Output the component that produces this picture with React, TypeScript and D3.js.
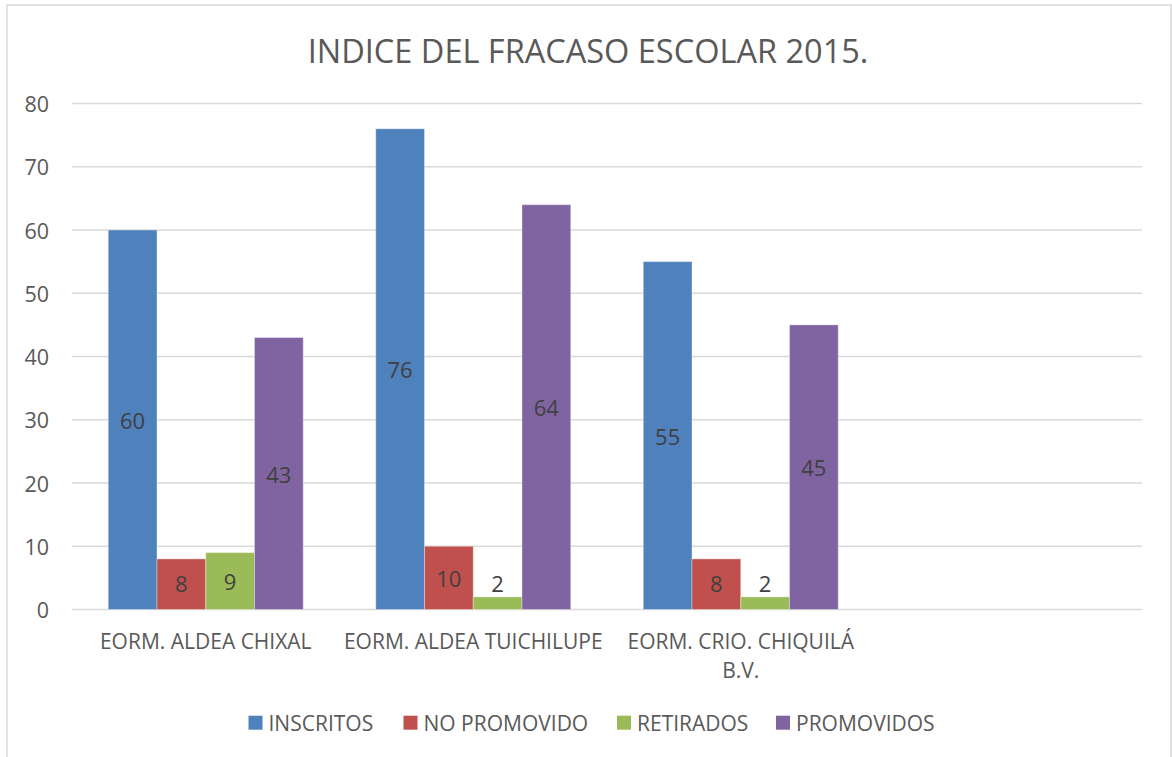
import React from "react";
import * as d3 from "d3";

const categories = ["EORM. ALDEA CHIXAL", "EORM. ALDEA TUICHILUPE", "EORM. CRIO. CHIQUILÁ B.V.", ""];
const seriesNames = ["INSCRITOS", "NO PROMOVIDO", "RETIRADOS", "PROMOVIDOS"];
const inscritos = [60, 76, 55, null];
const noPromovido = [8, 10, 8, null];
const retirados = [9, 2, 2, null];
const promovidos = [43, 64, 45, null];
const seriesColors = ["#4F81BD", "#C0504D", "#9BBB59", "#8064A2"];
const yTicks = [0, 10, 20, 30, 40, 50, 60, 70, 80];
const title = "INDICE DEL FRACASO ESCOLAR 2015.";

const W = 1172;
const H = 757;
const FONT = "'Open Sans', 'Noto Sans', sans-serif";
const TXT = "#595959";

export default function App() {
  const series = [inscritos, noPromovido, retirados, promovidos];
  const x0 = d3.scaleBand<number>().domain(categories.map((_, i) => i)).range([72, 1142]).paddingInner(0.2711).paddingOuter(0.1355);
  const x1 = d3.scaleBand<number>().domain(series.map((_, i) => i)).range([0, x0.bandwidth()]);
  const y = d3.scaleLinear().domain([0, 80]).range([609.5, 103.5]);
  const band = (1142 - 72) / categories.length;

  const legendX = [248.5, 403.5, 617, 776];

  return (
    <svg width={W} height={H} style={{ position: "absolute", left: 0, top: 0, fontFamily: FONT }}>
      <rect x={0} y={0} width={W} height={H} fill="#fff" />
      <rect x={7} y={5} width={1164} height={H + 10} fill="#fff" stroke="#d9d9d9" strokeWidth={1.5} />
      <text x={588} y={50} textAnchor="middle" dominantBaseline="central" fontSize={32.5} fill={TXT}>{title}</text>
      {yTicks.map((t) => (
        <g key={t}>
          <line x1={72} x2={1142} y1={y(t)} y2={y(t)} stroke="#d9d9d9" strokeWidth={1.5} />
          <text x={49} y={y(t)} textAnchor="end" dominantBaseline="central" fontSize={21.5} fill={TXT}>{t}</text>
        </g>
      ))}
      {categories.map((c, ci) => (
        <g key={ci}>
          {series.map((s, si) => {
            const v = s[ci];
            if (v == null) return null;
            const bx = (x0(ci) as number) + (x1(si) as number);
            const bw = x1.bandwidth();
            const top = y(v);
            const mid = (top + y(0)) / 2;
            const ly = Math.min(mid, y(0) - 27);
            return (
              <g key={si}>
                <rect x={bx} y={top} width={bw} height={y(0) - top} fill={seriesColors[si]} stroke="#ffffff" strokeOpacity={0.35} strokeWidth={1} />
                <text x={bx + bw / 2} y={ly} textAnchor="middle" dominantBaseline="central" fontSize={22} fill="#404040">{v}</text>
              </g>
            );
          })}
        </g>
      ))}
      {categories.map((c, ci) => {
        const cx = 72 + band * (ci + 0.5);
        const lines = c === "EORM. CRIO. CHIQUILÁ B.V." ? ["EORM. CRIO. CHIQUILÁ", "B.V."] : [c];
        return (
          <text key={ci} x={cx} y={641} textAnchor="middle" dominantBaseline="central" fontSize={21} fill={TXT}>
            {lines.map((l, li) => (
              <tspan key={li} x={cx} dy={li === 0 ? 0 : 29}>{l}</tspan>
            ))}
          </text>
        );
      })}
      {seriesNames.map((n, i) => (
        <g key={n}>
          <rect x={legendX[i]} y={715.7} width={14} height={14} fill={seriesColors[i]} />
          <text x={legendX[i] + 20} y={722.5} dominantBaseline="central" fontSize={21} fill={TXT}>{n}</text>
        </g>
      ))}
    </svg>
  );
}
